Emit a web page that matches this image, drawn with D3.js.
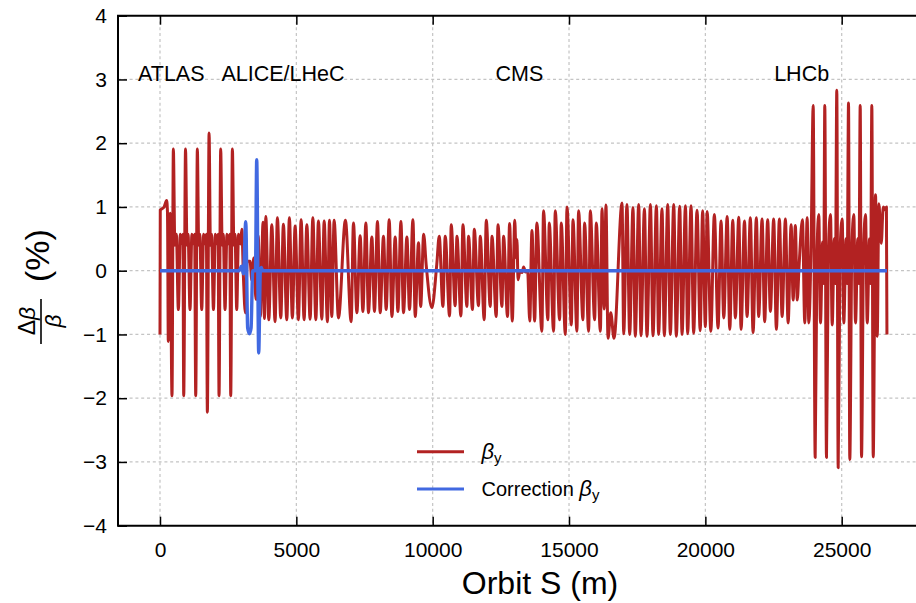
<!DOCTYPE html>
<html><head><meta charset="utf-8">
<script src="https://cdn.jsdelivr.net/npm/d3@7"></script>
<style>html,body{margin:0;padding:0;background:#fff;} svg{display:block;font-family:"Liberation Sans",Arial,Helvetica,sans-serif;}</style>
</head><body><svg id="c" width="916" height="603"></svg>
<script>
// ---------- data ----------
const xTicks = [0, 5000, 10000, 15000, 20000, 25000];
const yTicks = [-4, -3, -2, -1, 0, 1, 2, 3, 4];
const ipLabels = ["ATLAS", "ALICE/LHeC", "CMS", "LHCb"];
const ipLabelS = [414, 4510, 13183, 23531];
const legendNames = ["βy", "Correction βy"];

// beta-beating, [s (m), dβ/β (%)], sector by sector
const betaIR1 = [[0,-1.0],[10,0.95],[150,1.0],[245,1.1],[275,0.9],[305,-1.11],[370,0.9],[440,-1.96],[490,1.91],[545,0.4],[600,0.57],[673,-0.61],[745,0.57],[800,0.42],[840,0.57],[870,-1.96],[936,1.91],[990,0.4],[1030,0.57],[1100,-0.61],[1170,0.57],[1230,0.42],[1270,0.57],[1310,-1.96],[1370,1.91],[1420,0.4],[1460,0.57],[1530,-0.61],[1600,0.57],[1660,0.42],[1700,0.57],[1737,-2.22],[1800,2.16],[1850,0.4],[1890,0.57],[1960,-0.61],[2030,0.57],[2090,0.42],[2130,0.57],[2165,-1.96],[2226,1.91],[2280,0.4],[2320,0.57],[2385,-0.61],[2455,0.57],[2515,0.42],[2560,0.57],[2594,-1.96],[2655,1.91],[2710,0.4],[2750,0.57],[2814,-0.61],[2880,0.57]];
const betaIR2 = [[2950,0.42],[3000,0.65],[3060,-0.1],[3130,-0.66],[3200,0.15],[3300,0.15],[3370,-0.15],[3440,0.2],[3520,-0.45],[3600,0.55],[3680,-0.72],[3780,0.76],[3830,-0.75],[3880,0.85],[3990,-0.77]];
const betaArc23 = [[4100,0.72],[4220,-0.80],[4305,0.83],[4430,-0.74],[4525,0.73],[4650,-0.77],[4745,0.83],[4855,-0.74],[4955,0.70],[5075,-0.77],[5175,0.80],[5285,-0.77],[5385,0.72],[5505,-0.76],[5605,0.83],[5715,-0.77],[5810,0.78],[5935,-0.76],[6020,0.78],[6140,-0.80],[6215,0.79],[6300,-0.72],[6385,0.79],[6545,-0.74]];
const betaArc34 = [[6800,0.79],[7010,-0.80],[7095,0.75],[7220,-0.66],[7340,0.55],[7440,-0.64],[7550,0.75],[7645,-0.66],[7770,0.53],[7865,-0.64],[7975,0.77],[8075,-0.66],[8195,0.54],[8295,-0.61],[8405,0.80],[8505,-0.72],[8625,0.53],[8725,-0.64],[8835,0.77],[8930,-0.66],[9055,0.53],[9150,-0.61],[9275,0.80],[9360,-0.72],[9480,0.44],[9560,-0.56],[9670,0.57],[9760,0.1],[9970,-0.58],[10150,0.1]];
const betaArc45 = [[10240,0.54],[10375,-0.56],[10460,0.54],[10620,-0.71],[10680,0.72],[10825,-0.55],[10890,0.54],[11035,-0.71],[11110,0.72],[11255,-0.56],[11315,0.54],[11460,-0.61],[11525,0.65],[11680,-0.55],[11745,0.54],[11890,-0.77],[11965,0.79],[12110,-0.56],[12175,0.54],[12330,-0.72],[12395,0.72],[12540,-0.56],[12600,0.54],[12745,-0.72],[12820,0.74],[12920,-0.79],[13010,0.79],[13060,0.2],[13090,0.49],[13130,-0.14]];
const betaIR5 = [[13200,0.0],[13280,-0.03],[13335,0.06],[13400,-0.02],[13480,0.0]];
const betaArc56 = [[13560,-0.79],[13640,0.63],[13740,-0.79],[13820,0.75],[14005,-0.95],[14065,0.94],[14225,-0.77],[14275,0.75],[14435,-0.95],[14495,0.94],[14655,-0.77],[14715,0.75],[14865,-1.0],[14925,1.0],[15085,-0.85],[15145,0.8],[15290,-0.95],[15350,0.94],[15510,-0.77],[15570,0.75],[15720,-0.95],[15780,0.94],[15940,-0.77],[16000,0.75],[16150,-0.95],[16210,0.97],[16290,-0.6],[16355,1.03],[16430,-1.06],[16530,-0.66],[16650,-1.06],[16945,1.06]];
const betaArc67 = [[17005,-0.99],[17125,1.04],[17225,-1.0],[17345,0.99],[17430,-1.03],[17555,1.04],[17640,-1.02],[17765,0.97],[17860,-1.03],[17985,1.04],[18080,-1.02],[18205,1.02],[18285,-1.0],[18410,0.97],[18495,-1.02],[18620,1.04],[18715,-1.0],[18840,1.04],[18935,-1.03],[19060,1.01],[19145,-1.0],[19270,1.02],[19350,-0.99],[19475,1.02],[19570,-0.98],[19695,0.95],[19810,-0.94],[19900,0.94],[20000,-0.88],[20065,0.93]];
const betaArc78 = [[20200,-0.95],[20330,0.88],[20465,-0.90],[20575,0.78],[20675,-0.74],[20800,0.85],[20895,-0.92],[21005,0.79],[21100,-0.74],[21225,0.84],[21310,-0.92],[21435,0.78],[21530,-0.72],[21650,0.83],[21750,-0.97],[21870,0.83],[21955,-0.72],[22080,0.81],[22175,-0.80],[22285,0.80],[22385,-0.64],[22505,0.81],[22605,-0.92],[22715,0.81],[22815,-0.72],[22935,0.81],[23035,-0.82],[23145,0.72],[23220,-0.46],[23300,0.71],[23370,-0.46],[23440,0.1]];
const betaIR8 = [[23560,0.80],[23646,-0.82],[23734,0.83],[23793,-0.82],[23881,0.5],[23954,2.59],[24027,-2.93],[24095,0.3],[24160,0.88],[24222,-0.82],[24300,0.45],[24340,-0.2],[24380,2.59],[24442,-2.93],[24510,0.3],[24589,0.88],[24651,-0.85],[24730,0.5],[24770,-0.2],[24820,2.83],[24871,-3.09],[24940,0.3],[25018,0.81],[25077,-0.82],[25160,0.5],[25200,-0.2],[25250,2.63],[25297,-2.96],[25370,0.3],[25444,0.88],[25507,-0.82],[25590,0.5],[25630,-0.2],[25679,2.59],[25727,-2.92],[25800,0.3],[25874,0.88],[25936,-0.82],[26020,0.5],[26060,-0.2],[26105,2.59],[26156,-2.92],[26240,1.19],[26303,-1.03],[26362,1.05],[26450,0.43],[26523,1.0],[26608,0.95],[26640,1.0],[26659,-1.0]];
// correction
const corrBeta = [[0,0],[2900,0],[2990,0.07],[3060,-0.05],[3145,0.77],[3215,-0.9],[3280,-0.99],[3340,-0.9],[3400,0.0],[3500,0.0],[3547,1.74],[3620,-1.29],[3680,0.0],[3720,0.05],[3760,0],[26659,0]];

const betaY = [].concat(betaIR1, betaIR2, betaArc23, betaArc34, betaArc45, betaIR5, betaArc56, betaArc67, betaArc78, betaIR8);

// ---------- drawing ----------
const svg = d3.select("#c");
const L = 118, R = 940, T = 15.7, B = 525.7;
const x = d3.scaleLinear().domain([0, 25000]).range([160, 841.7]);
const y = d3.scaleLinear().domain([-4, 4]).range([B, T]);
const RED = "#b22222", BLUE = "#4169e1";

svg.append("defs").append("clipPath").attr("id","clip")
  .append("rect").attr("x",L).attr("y",T).attr("width",R-L).attr("height",B-T);

// grid
const grid = svg.append("g").attr("stroke","#c4c4c4").attr("stroke-width",1.2).attr("stroke-dasharray","3,2.8");
grid.selectAll("line.v").data(xTicks).join("line").attr("class","v")
  .attr("x1",d=>x(d)).attr("x2",d=>x(d)).attr("y1",T).attr("y2",B);
grid.selectAll("line.h").data(yTicks.filter(d=>d>-4&&d<4)).join("line").attr("class","h")
  .attr("x1",L).attr("x2",R).attr("y1",d=>y(d)).attr("y2",d=>y(d));

// lines
const line = d3.line().x(d=>x(d[0])).y(d=>y(d[1])).curve(d3.curveMonotoneX);
const plot = svg.append("g").attr("clip-path","url(#clip)");
plot.append("path").datum(betaY).attr("d",line).attr("fill","none")
  .attr("stroke",RED).attr("stroke-width",3).attr("stroke-linejoin","round");
plot.append("path").datum(corrBeta).attr("d",line).attr("fill","none")
  .attr("stroke",BLUE).attr("stroke-width",3.4).attr("stroke-linejoin","round");

// axes
const fmt = d3.format("d");
const ax = svg.append("g");
ax.append("g").attr("transform",`translate(0,${B})`)
  .call(d3.axisBottom(x).tickValues(xTicks).tickSize(-9).tickSizeOuter(0).tickPadding(16).tickFormat(fmt));
ax.append("g").attr("transform",`translate(0,${T})`)
  .call(d3.axisTop(x).tickValues(xTicks).tickSize(-9).tickSizeOuter(0).tickFormat(""));
ax.append("g").attr("transform",`translate(${L},0)`)
  .call(d3.axisLeft(y).tickValues(yTicks).tickSize(-9).tickSizeOuter(0).tickPadding(11).tickFormat(fmt));
ax.selectAll(".domain").remove();
ax.selectAll(".tick line").attr("stroke","#000").attr("stroke-width",1.5);
ax.selectAll("text").attr("fill","#000").attr("font-size",21)
  .attr("font-family","'Liberation Sans',Arial,sans-serif");
svg.append("path").attr("d",`M${R},${T}H${L}V${B}H${R}`).attr("fill","none").attr("stroke","#000").attr("stroke-width",2);

// IP labels
svg.append("g").selectAll("text").data(ipLabels).join("text")
  .attr("x",(d,i)=>x(ipLabelS[i])).attr("y",81).attr("text-anchor","middle")
  .attr("font-size",21.5).attr("fill","#000").text(d=>d);

// x title
svg.append("text").attr("x",540).attr("y",594).attr("text-anchor","middle")
  .attr("font-size",32).attr("fill","#000").text("Orbit S (m)");

// y title
const yt = svg.append("g").attr("transform","translate(40,270) rotate(-90)").attr("fill","#000");
yt.append("text").attr("x",-51).attr("y",-5).attr("text-anchor","middle").attr("font-size",23)
  .html('Δ<tspan font-style="italic">β</tspan>');
yt.append("line").attr("x1",-74).attr("x2",-29).attr("y1",1).attr("y2",1).attr("stroke","#000").attr("stroke-width",1.6);
yt.append("text").attr("x",-51).attr("y",21).attr("text-anchor","middle").attr("font-size",23)
  .attr("font-style","italic").text("β");
yt.append("text").attr("x",-12).attr("y",9).attr("text-anchor","start").attr("font-size",34).text("(%)");

// legend
const leg = svg.append("g");
const legColors = [RED, BLUE];
const legY = [451.7, 489];
legendNames.forEach((name,i)=>{
  leg.append("line").attr("x1",417).attr("x2",464).attr("y1",legY[i]).attr("y2",legY[i])
    .attr("stroke",legColors[i]).attr("stroke-width",3);
  const t = leg.append("text").attr("x",481.5).attr("y",legY[i]+7).attr("font-size",20).attr("fill","#000");
  const base = name.slice(0,-2);
  if (base) t.append("tspan").text(base);
  t.append("tspan").attr("font-style","italic").attr("font-size",22).text("β");
  t.append("tspan").attr("font-size",15).attr("dy",4).text("y");
});
</script></body></html>
